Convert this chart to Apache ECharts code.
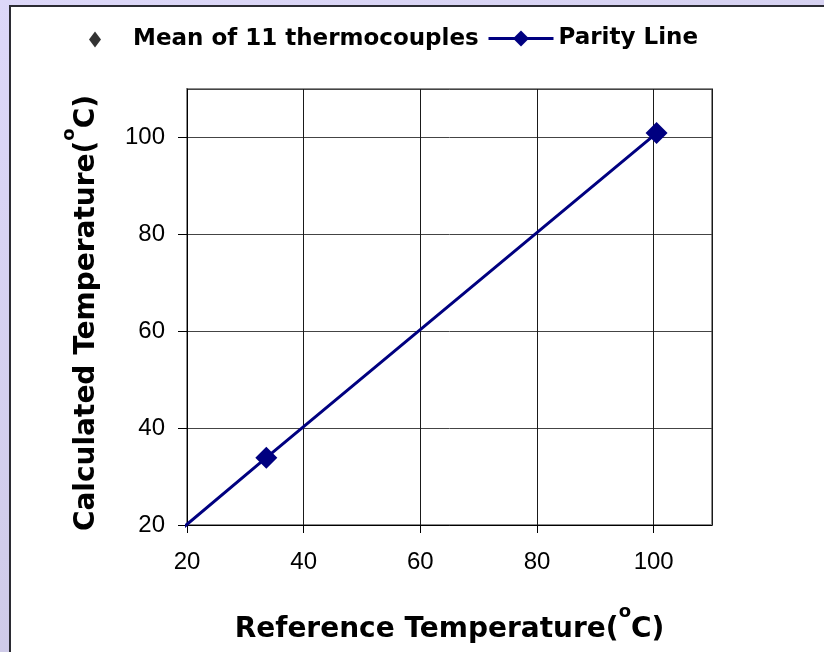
<!DOCTYPE html>
<html>
<head>
<meta charset="utf-8">
<script src="https://cdn.jsdelivr.net/npm/echarts@6/dist/echarts.min.js"></script>
<style>html,body{margin:0;padding:0;}#c{width:824px;height:652px;}</style>
</head>
<body>
<div id="c"></div>
<script>
// Data
const meanName = 'Mean of 11 thermocouples';
const parityName = 'Parity Line';
const meanRef = [33.6, 100.5];      // reference temperature (°C)
const meanCalc = [33.9, 100.9];     // calculated temperature (°C)
const parityRef = [18.2, 33.6, 100.5];
const parityCalc = [18.3, 33.9, 100.9];
const xTicks = [20, 40, 60, 80, 100];
const yTicks = [20, 40, 60, 80, 100];

const FONT = "'Liberation Sans', Arial, sans-serif";
const BOLDFONT = "'DejaVu Sans', 'Liberation Sans', sans-serif";
const navy = '#000080';

const meanData = meanRef.map((x, i) => [x, meanCalc[i]]);
const parityData = parityRef.map((x, i) => i === 0
  ? { value: [x, parityCalc[i]], symbol: 'none' }
  : [x, parityCalc[i]]);

function titleStyle(pad) {
  return {
    fontFamily: BOLDFONT, fontWeight: 'bold', fontSize: 28, color: '#000', lineHeight: 54,
    padding: pad,
    rich: { s: { fontFamily: BOLDFONT, fontWeight: 'bold', fontSize: 18, color: '#000',
      verticalAlign: 'top', lineHeight: 6 } }
  };
}

const chart = echarts.init(document.getElementById('c'), null, { renderer: 'canvas' });
chart.setOption({
  animation: false,
  backgroundColor: {
    type: 'linear', x: 0, y: 0, x2: 0.3, y2: 1,
    colorStops: [{ offset: 0, color: '#ddd8f9' }, { offset: 1, color: '#cdc9e6' }]
  },
  graphic: [{
    type: 'rect', z: -10, silent: true,
    shape: { x: 10, y: 6, width: 830, height: 660 },
    style: { fill: '#ffffff', stroke: '#2b2b33', lineWidth: 2 }
  }],
  textStyle: { fontFamily: FONT },
  legend: [{
    data: [meanName], left: 89, top: 28, padding: 0, itemWidth: 12, itemHeight: 16,
    icon: 'diamond', selectedMode: false,
    itemStyle: { color: '#000' },
    formatter: n => '{g|}' + n,
    textStyle: { fontFamily: BOLDFONT, fontWeight: 'bold', fontSize: 23, color: '#000',
      rich: { g: { width: 27 } } }
  }, {
    data: [parityName], left: 487, top: 27, padding: 0, itemWidth: 65, itemHeight: 20,
    selectedMode: false,
    lineStyle: { width: 3 },
    textStyle: { fontFamily: BOLDFONT, fontWeight: 'bold', fontSize: 23, color: '#000' }
  }],
  grid: { left: 187, right: 112, top: 89, bottom: 127, show: true,
    borderColor: '#8c8c8c', borderWidth: 2, backgroundColor: 'transparent',
    outerBoundsMode: 'none' },
  xAxis: {
    type: 'value', min: 20, max: 110, interval: 20,
    name: 'Reference Temperature({s|o}C)', nameLocation: 'middle', nameGap: 78,
    nameTextStyle: titleStyle([0, 0, 0, 0]),
    axisLine: { show: true, lineStyle: { color: '#000', width: 1 } },
    axisTick: { show: true, inside: false, length: 8, lineStyle: { color: '#000' } },
    axisLabel: { margin: 25, fontSize: 24, color: '#000', fontFamily: FONT,
      showMaxLabel: false,
      formatter: v => xTicks.includes(v) ? String(v) : '' },
    splitLine: { show: true, lineStyle: { color: '#1a1a1a', width: 1 } }
  },
  yAxis: {
    type: 'value', min: 20, max: 110, interval: 20,
    name: 'Calculated Temperature({s|o}C)', nameLocation: 'middle', nameGap: 73, nameRotate: 90,
    nameTextStyle: titleStyle([0, 12, 0, 0]),
    axisLine: { show: true, lineStyle: { color: '#000', width: 1 } },
    axisTick: { show: true, inside: false, length: 9, lineStyle: { color: '#000' } },
    axisLabel: { margin: 22, fontSize: 24, color: '#000', fontFamily: FONT,
      showMaxLabel: false,
      formatter: v => yTicks.includes(v) ? String(v) : '' },
    splitLine: { show: true, lineStyle: { color: '#444', width: 1 } }
  },
  series: [{
    name: meanName, type: 'scatter', data: meanData,
    symbol: 'diamond', symbolSize: 10, z: 2,
    itemStyle: { color: '#000' }
  }, {
    name: parityName, type: 'line', data: parityData, clip: false,
    symbol: 'diamond', symbolSize: 22, showAllSymbol: true, z: 3,
    lineStyle: { color: navy, width: 3 },
    itemStyle: { color: navy }
  }]
});
</script>
</body>
</html>
